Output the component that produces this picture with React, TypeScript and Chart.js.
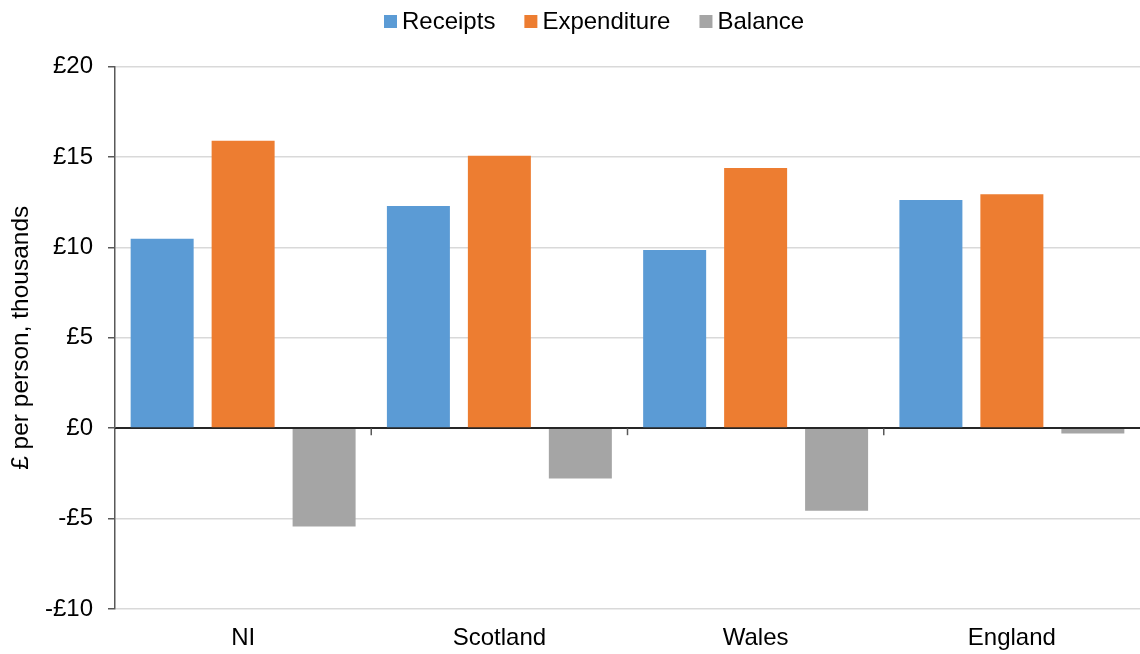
import React, { useEffect, useRef } from "react";
import { Chart, registerables } from "chart.js";

Chart.register(...registerables);

const categories = ["NI", "Scotland", "Wales", "England"];
const receipts = [10.47, 12.28, 9.85, 12.62];
const expenditure = [15.9, 15.06, 14.39, 12.94];
const balance = [-5.44, -2.79, -4.56, -0.3];
const yTicks = [-10, -5, 0, 5, 10, 15, 20];

const FONT = "'Liberation Sans', Arial, sans-serif";

const zeroLinePlugin = {
  id: "zeroLine",
  afterDatasetsDraw(chart: any) {
    const { ctx, chartArea, scales } = chart;
    const y0 = scales.y.getPixelForValue(0);
    const xs = scales.x;
    ctx.save();
    ctx.strokeStyle = "#262626";
    ctx.lineWidth = 1.5;
    ctx.beginPath();
    ctx.moveTo(chartArea.left, y0);
    ctx.lineTo(chartArea.right, y0);
    ctx.stroke();
    ctx.strokeStyle = "#595959";
    ctx.lineWidth = 1.5;
    for (let i = 1; i < categories.length; i++) {
      const x = (xs.getPixelForValue(i - 1) + xs.getPixelForValue(i)) / 2;
      ctx.beginPath();
      ctx.moveTo(x, y0);
      ctx.lineTo(x, y0 + 7);
      ctx.stroke();
    }
    ctx.restore();
  },
};

const LEGEND_LEFT = 384;
const LEGEND_Y = 21.5;
const BOX = 13;
const BOX_GAP = 5;
const ITEM_GAP = 29;

const legendPlugin = {
  id: "customLegend",
  afterDraw(chart: any) {
    const { ctx } = chart;
    ctx.save();
    ctx.font = `24px ${FONT}`;
    ctx.textBaseline = "middle";
    ctx.textAlign = "left";
    let x = LEGEND_LEFT;
    chart.data.datasets.forEach((ds: any) => {
      ctx.fillStyle = ds.backgroundColor;
      ctx.fillRect(x, LEGEND_Y - BOX / 2, BOX, BOX);
      x += BOX + BOX_GAP;
      ctx.fillStyle = "#000";
      ctx.fillText(ds.label, x, LEGEND_Y + 1);
      x += ctx.measureText(ds.label).width + ITEM_GAP;
    });
    ctx.restore();
  },
};

export default function App() {
  const ref = useRef<HTMLCanvasElement | null>(null);
  useEffect(() => {
    if (!ref.current) return;
    const chart = new Chart(ref.current, {
      type: "bar",
      data: {
        labels: categories,
        datasets: [
          { label: "Receipts", data: receipts, backgroundColor: "#5B9BD5" },
          { label: "Expenditure", data: expenditure, backgroundColor: "#ED7D31" },
          { label: "Balance", data: balance, backgroundColor: "#A5A5A5" },
        ],
      },
      options: {
        animation: false,
        responsive: false,
        maintainAspectRatio: false,
        layout: { padding: { top: 66.5, right: 0, left: 0, bottom: 0 } },
        datasets: {
          bar: { categoryPercentage: 0.948, barPercentage: 0.778 },
        },
        plugins: {
          legend: { display: false },
          tooltip: { enabled: false },
        },
        scales: {
          x: {
            grid: { display: false, drawTicks: false },
            border: { display: false },
            ticks: { color: "#000", font: { family: FONT, size: 24 }, padding: 15 },
            afterFit(scale: any) {
              scale.height = 45;
            },
          },
          y: {
            min: -10,
            max: 20,
            afterBuildTicks(scale: any) {
              scale.ticks = yTicks.map((v) => ({ value: v }));
            },
            grid: {
              color: (c: any) => (c.tick && c.tick.value === 0 ? "#262626" : "#D9D9D9"),
              lineWidth: 1.5,
              tickLength: 7,
              tickColor: "#595959",
            },
            border: { display: true, color: "#595959", width: 1.5 },
            ticks: {
              color: "#000",
              font: { family: FONT, size: 24 },
              padding: 15,
              callback: (v: any) => (v < 0 ? "-£" + Math.abs(v) : "£" + v),
            },
            title: {
              display: true,
              text: "£ per person, thousands",
              color: "#000",
              font: { family: FONT, size: 24.5 },
              padding: { top: 7, bottom: 0 },
            },
            afterFit(scale: any) {
              scale.width = 115;
            },
          },
        },
      },
      plugins: [zeroLinePlugin, legendPlugin],
    });
    return () => chart.destroy();
  }, []);
  return (
    <div style={{ position: "absolute", left: 0, top: 0, width: 1140, height: 654, background: "#fff" }}>
      <canvas ref={ref} width={1140} height={654} />
    </div>
  );
}
